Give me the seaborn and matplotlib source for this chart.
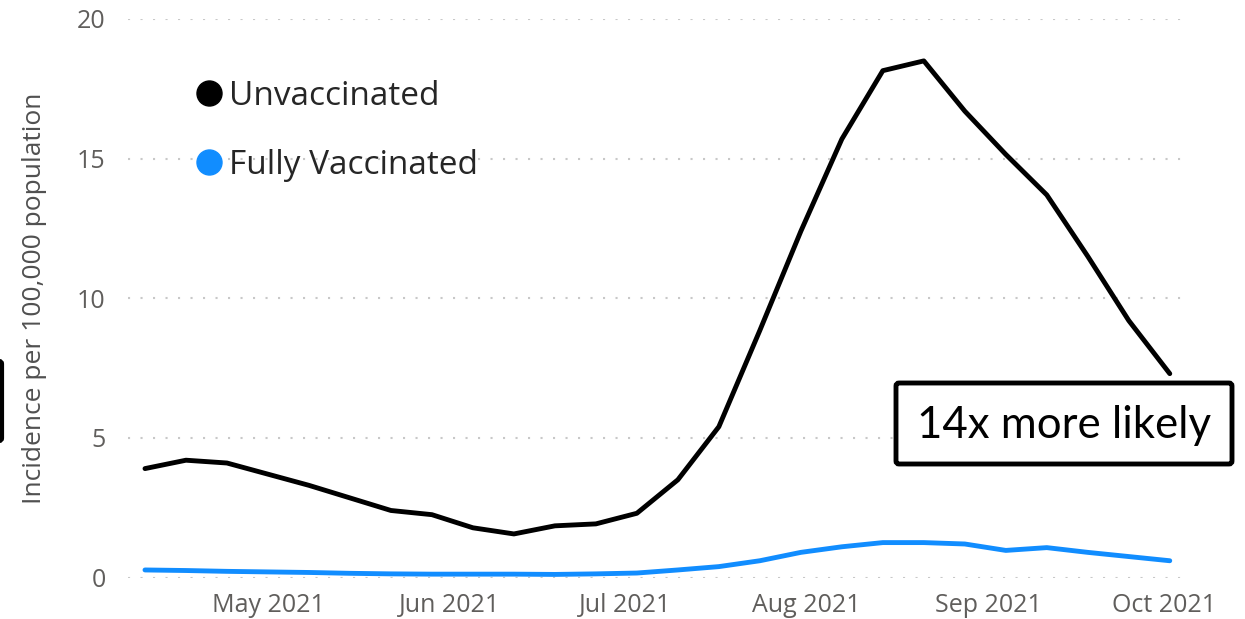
import pandas as pd
import numpy as np
import matplotlib
matplotlib.use("Agg")
import matplotlib.pyplot as plt
import matplotlib.dates as mdates
from matplotlib.lines import Line2D
from matplotlib.patches import FancyBboxPatch
import seaborn as sns

# weekly values
weeks = pd.date_range("2021-04-10", periods=26, freq="7D")
unvaccinated = [3.9, 4.2, 4.1, 3.7, 3.3, 2.85, 2.4, 2.25, 1.78, 1.56, 1.85, 1.92, 2.3,
                3.5, 5.4, 8.85, 12.4, 15.7, 18.15, 18.5, 16.7, 15.15, 13.7, 11.5, 9.2, 7.3]
fully_vaccinated = [0.27, 0.25, 0.22, 0.2, 0.18, 0.15, 0.13, 0.12, 0.12, 0.12, 0.11, 0.13, 0.16,
                    0.27, 0.39, 0.6, 0.9, 1.1, 1.25, 1.25, 1.2, 0.97, 1.07, 0.9, 0.75, 0.6]
groups = ["Unvaccinated", "Fully Vaccinated"]
colors = {"Unvaccinated": "black", "Fully Vaccinated": "#118DFF"}
month_ticks = pd.to_datetime(["2021-05-01", "2021-06-01", "2021-07-01",
                              "2021-08-01", "2021-09-01", "2021-10-01"])
month_labels = ["May 2021", "Jun 2021", "Jul 2021", "Aug 2021", "Sep 2021", "Oct 2021"]

df = pd.DataFrame({"week": list(weeks) * 2,
                   "rate": unvaccinated + fully_vaccinated,
                   "status": [groups[0]] * 26 + [groups[1]] * 26})

sns.set_style("white")
plt.rcParams['font.family'] = ['Open Sans', 'DejaVu Sans']

fig = plt.figure(figsize=(12.45, 6.19), dpi=100)
ax = fig.add_axes([128 / 1245, 1 - 577.5 / 619, (1185 - 128) / 1245, (577.5 - 19) / 619])

sns.lineplot(data=df, x="week", y="rate", hue="status", palette=colors,
             linewidth=3.5, ax=ax, legend=False)
for ln in ax.lines:
    ln.set_clip_on(False)
    ln.set_solid_joinstyle("round")
    ln.set_solid_capstyle("round")

ax.set_ylim(0, 20)
ax.set_yticks([0, 5, 10, 15, 20])
ax.set_xlim(weeks[0] - pd.Timedelta(days=2.9), weeks[-1] + pd.Timedelta(days=2.6))
ax.set_xticks(month_ticks)
ax.set_xticklabels(month_labels)
ax.yaxis.grid(True, color="#C8C8C8", linestyle=(0, (1, 5)), linewidth=1.5)
ax.xaxis.grid(False)
for s in ax.spines.values():
    s.set_visible(False)
ax.tick_params(axis="x", length=0, pad=11, labelsize=18, labelcolor="#605E5C")
ax.tick_params(axis="y", length=0, pad=16, labelsize=18, labelcolor="#605E5C")
ax.set_xlabel("")
ax.set_ylabel("Incidence per 100,000 population", fontsize=19, color="#505050", labelpad=22)

handles = [Line2D([], [], marker="o", linestyle="", markersize=18, color=colors[g]) for g in groups]
ax.legend(handles, groups, loc="upper left", bbox_to_anchor=(196 / 1245, 1 - 80 / 619),
          bbox_transform=fig.transFigure, frameon=False, fontsize=24, handlelength=0.8,
          handletextpad=0.2, labelspacing=1.08, borderpad=0, borderaxespad=0)

# annotation box
box = FancyBboxPatch((896, 619 - 464), 336, 81, boxstyle="round,pad=0,rounding_size=3",
                     transform=None, fill=True, facecolor="white", edgecolor="black",
                     linewidth=3.5, zorder=5)
fig.patches.append(box)
fig.text(1064 / 1245, 1 - 425 / 619, "14x more likely", fontsize=31.5, family="Lato",
         ha="center", va="center", color="black", zorder=6)

# cut-off box at the left edge
stub = FancyBboxPatch((-20, 619 - 441), 22, 80, boxstyle="round,pad=0,rounding_size=3",
                      transform=None, fill=False, edgecolor="black", linewidth=3)
fig.patches.append(stub)

fig.savefig("out.png", dpi=100)
